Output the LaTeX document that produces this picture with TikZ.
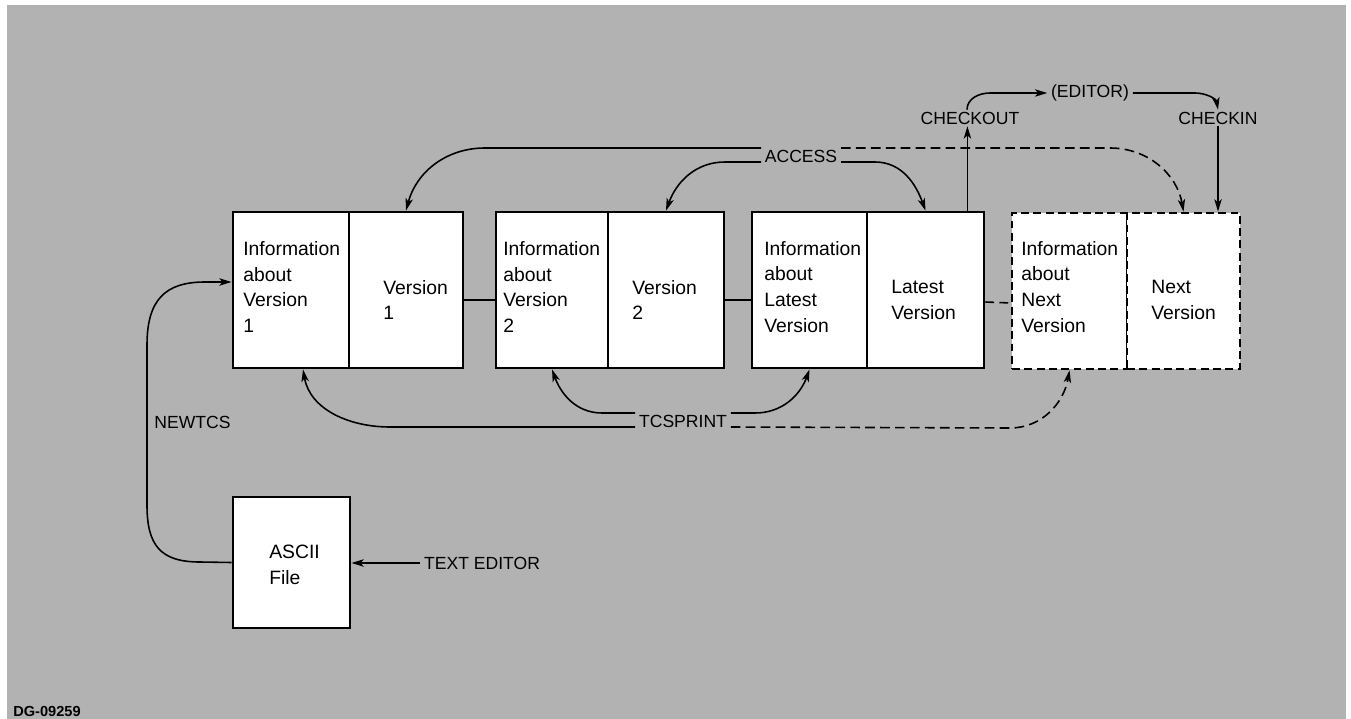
\documentclass[tikz,border=0pt]{standalone}
\usepackage{fontspec}
\setmainfont{Liberation Sans}
\usetikzlibrary{arrows.meta,fit,calc}
\definecolor{paper}{RGB}{178,178,178}

\begin{document}
\begin{tikzpicture}[x=0.02cm,y=-0.02cm,
  half/.style={draw,fill=white,line width=1.6pt,inner sep=0pt},
  dhalf/.style={half,dash pattern=on 4.5pt off 2.5pt},
  body/.style={anchor=west,align=left,inner sep=0pt,font=\fontsize{11pt}{14.7pt}\selectfont},
  lbl/.style={inner xsep=2pt,inner ysep=1pt,font=\fontsize{10pt}{12pt}\selectfont},
  con/.style={line width=0.9pt},
  arr/.style={con,-{Stealth[length=7pt,width=4.2pt,inset=1.8pt]}},
  darr/.style={arr,dash pattern=on 5.5pt off 3pt},
]
% sheet
\useasboundingbox (0,0) rectangle (1351,719);
\fill[white] (0,0) rectangle (1351,719);
\fill[paper] (7,5) rectangle (1346,719);

% version records: information half + contents half
\node[half,fit={(233,212) (349,368)}] (b1a) {};
\node[half,fit={(349,212) (463,368)}] (b1b) {};
\node[half,fit={(496,212) (608,368)}] (b2a) {};
\node[half,fit={(608,212) (724,368)}] (b2b) {};
\node[half,fit={(752,212) (867,368)}] (b3a) {};
\node[half,fit={(867,212) (984,368)}] (b3b) {};
\node[dhalf,fit={(1012,213) (1127,369)}] (b4a) {};
\node[dhalf,fit={(1127,213) (1240,369)}] (b4b) {};
\node[half,fit={(233,497) (350,628)}] (asc) {};

% record texts
\node[body] (t1a) at (243,287) {Information\\about\\Version\\1};
\node[body] (t1b) at (383,300) {Version\\1};
\node[body] (t2a) at (503,287) {Information\\about\\Version\\2};
\node[body] (t2b) at (632,300) {Version\\2};
\node[body] (t3a) at (764,287) {Information\\about\\Latest\\Version};
\node[body] (t3b) at (891,300) {Latest\\Version};
\node[body] (t4a) at (1021,287) {Information\\about\\Next\\Version};
\node[body] (t4b) at (1151,300) {Next\\Version};
\node[body] (tas) at (269,565) {ASCII\\File};

% command labels
\node[lbl] (acc) at (801,156) {ACCESS};
\node[lbl] (tc) at (683,421) {TCSPRINT};
\node[lbl] (co) at (970,118) {CHECKOUT};
\node[lbl] (ed) at (1090,93) {(EDITOR)};
\node[lbl] (ci) at (1218,118) {CHECKIN};
\node[lbl,anchor=west,inner xsep=0pt] (nw) at (154,422) {NEWTCS};
\node[lbl] (te) at (482,563) {TEXT EDITOR};
\node[anchor=west,inner sep=0pt,font=\bfseries\fontsize{8.3pt}{10pt}\selectfont] (dg) at (13,711) {DG-09259};

% chain of versions
\draw[con] ($(b1b.east)+(0,10)$) -- ($(b2a.west)+(0,10)$);
\draw[con] ($(b2b.east)+(0,10)$) -- ($(b3a.west)+(0,10)$);
\draw[con,dash pattern=on 5pt off 3pt] ($(b3b.east)+(0,12)$) -- ($(b4a.west)+(0,12)$);

% ACCESS
\draw[arr] ($(acc.west)+(0,-8)$) -- (485,148) to[out=180,in=75] (b1b.north);
\draw[arr] ($(acc.west)+(0,6)$) -- (725,162) to[out=180,in=70] (b2b.north);
\draw[arr] ($(acc.east)+(0,6)$) -- (875,162) to[out=0,in=110] (b3b.north);
\draw[darr] ($(acc.east)+(0,-8)$) -- (1110,148) to[out=0,in=100] (b4b.north);

% TCSPRINT
\draw[arr] ($(tc.west)+(0,6)$) -- (390,427) to[out=180,in=-80] ($(b1a.south)+(12,0)$);
\draw[arr] ($(tc.west)+(0,-8)$) -- (602,413) to[out=180,in=-70] (b2a.south);
\draw[arr] ($(tc.east)+(0,-8)$) -- (755,413) to[out=0,in=-110] (b3a.south);
\draw[darr] ($(tc.east)+(0,6)$) -- (1010,428) to[out=0,in=-100] (b4a.south);

% CHECKOUT -> (EDITOR) -> CHECKIN
\coordinate (cob) at ($(b3b.north east)+(-18,0)$);
\draw[arr] (cob) -- (cob |- co.south);
\draw[arr] ($(co.north)+(-3,0)$) to[out=90,in=180] (990,93) -- (ed.west);
\draw[arr] (ed.east) -- (1195,93) to[out=0,in=100] (ci.north);
\draw[arr] (ci.south) -- (ci.south |- b4b.north);

% NEWTCS and TEXT EDITOR
\draw[arr] (asc.west) -- (200,562) .. controls (160,562) and (147,545) .. (147,505)
  -- (147,345) .. controls (147,300) and (165,282) .. (205,282) -- ($(b1a.west)+(0,-8)$);
\draw[arr] (te.west) -- (te.west -| asc.east);
\end{tikzpicture}
\end{document}
